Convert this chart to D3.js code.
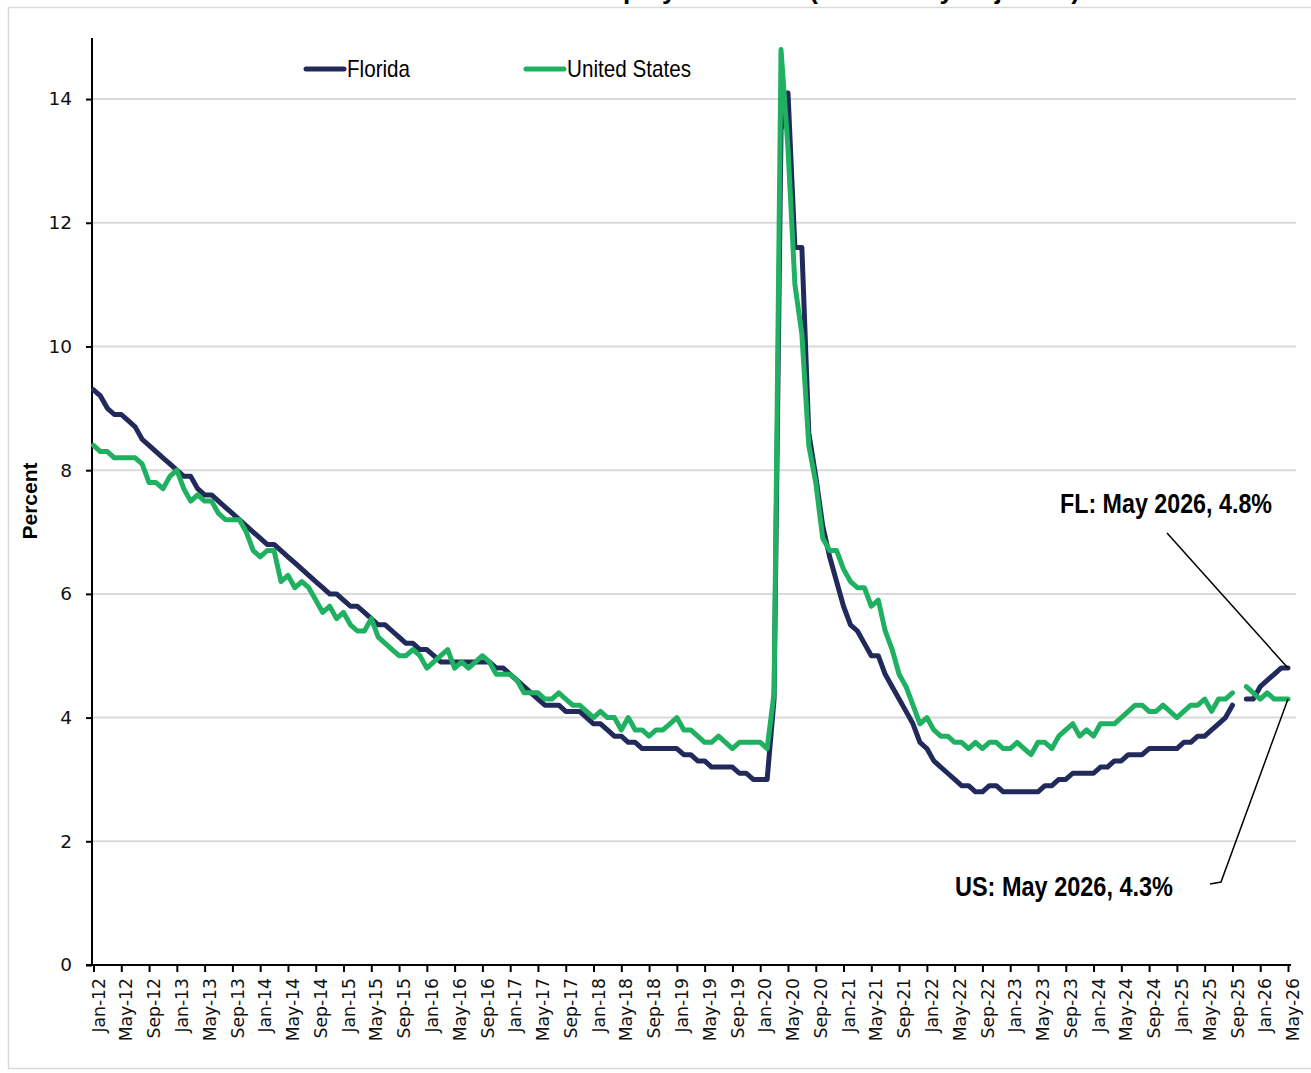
<!DOCTYPE html>
<html>
<head>
<meta charset="utf-8">
<script src="https://cdn.jsdelivr.net/npm/d3@7"></script>
<style>
  html, body { margin: 0; padding: 0; background: #ffffff; }
  svg { display: block; }
</style>
</head>
<body>
<div id="chart"></div>
<script>
// ---------- DATA ----------
const monthNames = ["Jan","Feb","Mar","Apr","May","Jun","Jul","Aug","Sep","Oct","Nov","Dec"];
const yearLabels = ["12","13","14","15","16","17","18","19","20","21","22","23","24","25","26"];
const seriesNames = ["Florida", "United States"];
const yTicks = [0, 2, 4, 6, 8, 10, 12, 14];

const florida = [
  9.3, 9.2, 9.0, 8.9, 8.9, 8.8, 8.7, 8.5, 8.4, 8.3, 8.2, 8.1,   // 2012
  8.0, 7.9, 7.9, 7.7, 7.6, 7.6, 7.5, 7.4, 7.3, 7.2, 7.1, 7.0,   // 2013
  6.9, 6.8, 6.8, 6.7, 6.6, 6.5, 6.4, 6.3, 6.2, 6.1, 6.0, 6.0,   // 2014
  5.9, 5.8, 5.8, 5.7, 5.6, 5.5, 5.5, 5.4, 5.3, 5.2, 5.2, 5.1,   // 2015
  5.1, 5.0, 4.9, 4.9, 4.9, 4.9, 4.9, 4.9, 4.9, 4.9, 4.8, 4.8,   // 2016
  4.7, 4.6, 4.5, 4.4, 4.3, 4.2, 4.2, 4.2, 4.1, 4.1, 4.1, 4.0,   // 2017
  3.9, 3.9, 3.8, 3.7, 3.7, 3.6, 3.6, 3.5, 3.5, 3.5, 3.5, 3.5,   // 2018
  3.5, 3.4, 3.4, 3.3, 3.3, 3.2, 3.2, 3.2, 3.2, 3.1, 3.1, 3.0,   // 2019
  3.0, 3.0, 4.3, 13.5, 14.1, 11.6, 11.6, 8.6, 7.9, 7.1, 6.6, 6.2, // 2020
  5.8, 5.5, 5.4, 5.2, 5.0, 5.0, 4.7, 4.5, 4.3, 4.1, 3.9, 3.6,   // 2021
  3.5, 3.3, 3.2, 3.1, 3.0, 2.9, 2.9, 2.8, 2.8, 2.9, 2.9, 2.8,   // 2022
  2.8, 2.8, 2.8, 2.8, 2.8, 2.9, 2.9, 3.0, 3.0, 3.1, 3.1, 3.1,   // 2023
  3.1, 3.2, 3.2, 3.3, 3.3, 3.4, 3.4, 3.4, 3.5, 3.5, 3.5, 3.5,   // 2024
  3.5, 3.6, 3.6, 3.7, 3.7, 3.8, 3.9, 4.0, 4.2, null, 4.3, 4.3,  // 2025
  4.5, 4.6, 4.7, 4.8, 4.8                                       // 2026
];

const unitedStates = [
  8.4, 8.3, 8.3, 8.2, 8.2, 8.2, 8.2, 8.1, 7.8, 7.8, 7.7, 7.9,   // 2012
  8.0, 7.7, 7.5, 7.6, 7.5, 7.5, 7.3, 7.2, 7.2, 7.2, 7.0, 6.7,   // 2013
  6.6, 6.7, 6.7, 6.2, 6.3, 6.1, 6.2, 6.1, 5.9, 5.7, 5.8, 5.6,   // 2014
  5.7, 5.5, 5.4, 5.4, 5.6, 5.3, 5.2, 5.1, 5.0, 5.0, 5.1, 5.0,   // 2015
  4.8, 4.9, 5.0, 5.1, 4.8, 4.9, 4.8, 4.9, 5.0, 4.9, 4.7, 4.7,   // 2016
  4.7, 4.6, 4.4, 4.4, 4.4, 4.3, 4.3, 4.4, 4.3, 4.2, 4.2, 4.1,   // 2017
  4.0, 4.1, 4.0, 4.0, 3.8, 4.0, 3.8, 3.8, 3.7, 3.8, 3.8, 3.9,   // 2018
  4.0, 3.8, 3.8, 3.7, 3.6, 3.6, 3.7, 3.6, 3.5, 3.6, 3.6, 3.6,   // 2019
  3.6, 3.5, 4.4, 14.8, 13.2, 11.0, 10.2, 8.4, 7.8, 6.9, 6.7, 6.7, // 2020
  6.4, 6.2, 6.1, 6.1, 5.8, 5.9, 5.4, 5.1, 4.7, 4.5, 4.2, 3.9,   // 2021
  4.0, 3.8, 3.7, 3.7, 3.6, 3.6, 3.5, 3.6, 3.5, 3.6, 3.6, 3.5,   // 2022
  3.5, 3.6, 3.5, 3.4, 3.6, 3.6, 3.5, 3.7, 3.8, 3.9, 3.7, 3.8,   // 2023
  3.7, 3.9, 3.9, 3.9, 4.0, 4.1, 4.2, 4.2, 4.1, 4.1, 4.2, 4.1,   // 2024
  4.0, 4.1, 4.2, 4.2, 4.3, 4.1, 4.3, 4.3, 4.4, null, 4.5, 4.4,  // 2025
  4.3, 4.4, 4.3, 4.3, 4.3                                       // 2026
];

const titleText = "Florida and U.S. Unemployment Rate (Seasonally Adjusted)";
const yAxisTitle = "Percent";
const flNote = "FL: May 2026, 4.8%";
const usNote = "US: May 2026, 4.3%";

// month labels Jan-12 ... May-26
const months = [];
yearLabels.forEach(y => monthNames.forEach(m => months.push(m + "-" + y)));
months.length = florida.length;

// ---------- LAYOUT ----------
const W = 1311, H = 1073;
const colFL = "#222a5c", colUS = "#1fb161";
const narrow = "'Liberation Sans Narrow', 'Arial Narrow', 'Liberation Sans', Arial, sans-serif";
const tickFont = "'DejaVu Sans', Verdana, sans-serif";

const svg = d3.select("#chart").append("svg")
  .attr("width", W).attr("height", H)
  .style("background", "#fff");

// outer border
svg.append("rect")
  .attr("x", 8.5).attr("y", 7.5).attr("width", 1400).attr("height", 1061)
  .attr("fill", "none").attr("stroke", "#d9d9d9").attr("stroke-width", 1.5);

// title (cut off at the top of the picture, as in the reference)
svg.append("text")
  .attr("x", 1080).attr("y", -1)
  .attr("text-anchor", "end")
  .attr("font-family", narrow).attr("font-weight", "bold").attr("font-size", 26)
  .attr("fill", "#000")
  .text(titleText);

const x = d3.scalePoint().domain(months).range([93.5, 1288]);
const y = d3.scaleLinear().domain([0, 15]).range([965, 37.2]);

// gridlines
svg.append("g").selectAll("line")
  .data(yTicks.filter(d => d > 0))
  .join("line")
  .attr("x1", 92).attr("x2", 1296)
  .attr("y1", d => y(d)).attr("y2", d => y(d))
  .attr("stroke", "#d9d9d9").attr("stroke-width", 2);

// y axis
const yAxis = d3.axisLeft(y).tickValues(yTicks).tickSize(6).tickPadding(14).tickFormat(d3.format("d"));
const gy = svg.append("g").attr("transform", "translate(92,0)").call(yAxis);
gy.attr("font-family", tickFont);
gy.select(".domain").remove();
gy.append("line").attr("x1", 0).attr("x2", 0).attr("y1", 38).attr("y2", 965)
  .attr("stroke", "#000").attr("stroke-width", 2);
gy.selectAll(".tick line").attr("stroke", "#000").attr("stroke-width", 2);
gy.selectAll(".tick text")
  .style("font-family", tickFont)
  .attr("font-size", 18.5).attr("fill", "#111");

// x axis
const tickMonths = months.filter((d, i) => i % 4 === 0);
const xAxis = d3.axisBottom(x).tickValues(tickMonths).tickSize(7).tickSizeOuter(0);
const gx = svg.append("g").attr("transform", "translate(0,965)").call(xAxis);
gx.attr("font-family", tickFont);
gx.select(".domain").remove();
gx.append("line").attr("x1", 86).attr("x2", 1291).attr("y1", 0).attr("y2", 0)
  .attr("stroke", "#000").attr("stroke-width", 2.2);
gx.selectAll(".tick line").attr("stroke", "#000").attr("stroke-width", 2);
gx.selectAll(".tick text")
  .style("font-family", tickFont)
  .attr("font-size", 17.2).attr("fill", "#111")
  .attr("text-anchor", "end")
  .attr("transform", "rotate(-90)")
  .attr("x", -13).attr("y", 0).attr("dy", "0.62em");

// y axis title
svg.append("text")
  .attr("transform", "translate(37,501) rotate(-90)")
  .attr("text-anchor", "middle")
  .attr("font-family", narrow).attr("font-weight", "bold").attr("font-size", 21)
  .attr("fill", "#000")
  .text(yAxisTitle);

// lines
const line = d3.line()
  .defined(d => d.v !== null)
  .x(d => x(d.m))
  .y(d => y(d.v));

const flData = months.map((m, i) => ({ m, v: florida[i] }));
const usData = months.map((m, i) => ({ m, v: unitedStates[i] }));

svg.append("path").datum(flData)
  .attr("d", line).attr("fill", "none")
  .attr("stroke", colFL).attr("stroke-width", 5)
  .attr("stroke-linejoin", "round").attr("stroke-linecap", "round");

svg.append("path").datum(usData)
  .attr("d", line).attr("fill", "none")
  .attr("stroke", colUS).attr("stroke-width", 5)
  .attr("stroke-linejoin", "round").attr("stroke-linecap", "round");

// legend
const legend = [
  { name: seriesNames[0], color: colFL, x: 306, len: 63 },
  { name: seriesNames[1], color: colUS, x: 526, len: 124 }
];
const lg = svg.append("g");
legend.forEach(l => {
  lg.append("line").attr("x1", l.x).attr("x2", l.x + 38).attr("y1", 69).attr("y2", 69)
    .attr("stroke", l.color).attr("stroke-width", 5).attr("stroke-linecap", "round");
  lg.append("text").attr("x", l.x + 41).attr("y", 77)
    .attr("font-family", narrow).attr("font-size", 24).attr("fill", "#000")
    .attr("textLength", l.len).attr("lengthAdjust", "spacingAndGlyphs")
    .text(l.name);
});

// annotations
const last = months.length - 1;
const flEnd = [x(months[last]), y(florida[last])];
const usEnd = [x(months[last]), y(unitedStates[last])];

svg.append("path")
  .attr("d", d3.line()([[1167, 533], flEnd]))
  .attr("fill", "none").attr("stroke", "#000").attr("stroke-width", 1.5);
svg.append("path")
  .attr("d", d3.line()([usEnd, [1221, 882], [1210, 884]]))
  .attr("fill", "none").attr("stroke", "#000").attr("stroke-width", 1.5);

svg.append("text").attr("x", 1060).attr("y", 513)
  .attr("font-family", narrow).attr("font-weight", "bold").attr("font-size", 27)
  .attr("textLength", 212).attr("lengthAdjust", "spacingAndGlyphs")
  .attr("fill", "#000").text(flNote);
svg.append("text").attr("x", 955).attr("y", 896)
  .attr("font-family", narrow).attr("font-weight", "bold").attr("font-size", 27)
  .attr("textLength", 218).attr("lengthAdjust", "spacingAndGlyphs")
  .attr("fill", "#000").text(usNote);
</script>
</body>
</html>
